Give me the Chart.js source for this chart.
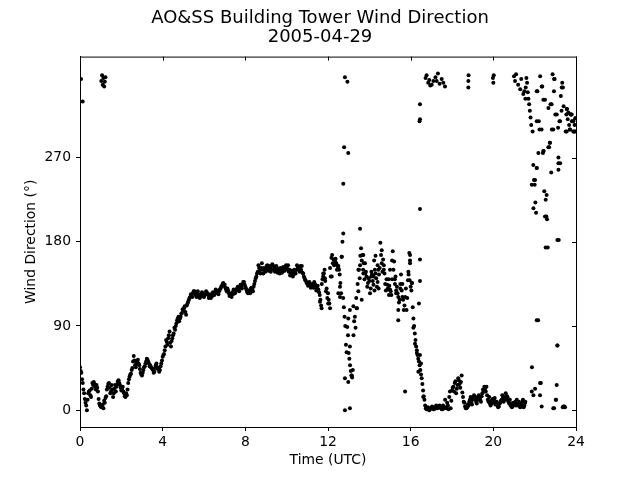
<!DOCTYPE html>
<html>
<head>
<meta charset="utf-8">
<script src="https://cdn.jsdelivr.net/npm/chart.js@4.4.1/dist/chart.umd.min.js"></script>
<style>
  html, body { margin: 0; padding: 0; background: #fff; }
  canvas { display: block; }
</style>
</head>
<body>
<canvas id="windChart" width="640" height="480"></canvas>
<script>
// wind direction (deg), one reading every 4 minutes from 00:00 UTC
const minutesPerSample = 4;
const windDir = [
  46, 40, 29, 18, 8, 0, 18, 21, 14, 29, 30, 25, 27, 20, 7,
  4, 4, 2, 8, 15, 25, 29, 18, 27, 14, 23, 20, 28, 32, 27,
  21, 25, 18, 14, 16, 29, 36, 39, 45, 58, 48, 50, 54, 48, 40,
  37, 43, 47, 52, 54, 50, 48, 45, 43, 41, 48, 46, 44, 43, 50,
  57, 60, 68, 73, 77, 84, 68, 77, 82, 86, 93, 98, 95, 100, 104,
  107, 111, 102, 114, 118, 121, 123, 125, 127, 123, 125, 123, 120, 122, 125,
  121, 124, 126, 123, 121, 120, 122, 125, 126, 128, 125, 127, 130, 133, 136,
  134, 129, 130, 125, 123, 121, 124, 127, 127, 130, 129, 132, 132, 135, 137,
  132, 128, 125, 127, 130, 129, 132, 138, 143, 148, 152, 146, 157, 146, 150,
  152, 155, 150, 154, 151, 155, 153, 150, 152, 149, 146, 150, 148, 151, 150,
  153, 155, 150, 146, 147, 145, 148, 150, 152, 153, 154, 154, 146, 141, 138,
  136, 135, 134, 132, 134, 137, 133, 130, 129, 123, 112, 140, 146, 138, 130,
  125, 114, 143, 166, 161, 159, 157, 154, 150, 136, 164, 120, 100, 70, 89,
  61, 48, 37, 43, 95, 88, 109, 127, 141, 173, 166, 157, 146, 143, 136,
  138, 130, 145, 134, 150, 141, 137, 145, 179, 157, 161, 146, 128, 134, 140,
  129, 123, 170, 159, 143, 132, 121, 118, 145, 121, 107, 121, 107, 139, 168,
  132, 136, 98, 82, 68, 59, 52, 43, 34, 21, 11, 2, 1, 2, 1,
  2, 3, 1, 2, 4, 3, 5, 2, 1, 3, 11, 2, 5, 14, 2,
  21, 25, 29, 18, 27, 32, 24, 37, 14, 8, 2, 3, 5, 11, 8,
  11, 16, 14, 7, 11, 14, 9, 18, 20, 23, 25, 11, 14, 5, 7,
  9, 13, 7, 5, 4, 8, 11, 14, 12, 18, 15, 9, 11, 7, 4,
  6, 9, 11, 5, 7, 4, 9, 3, 8, 355, 340, 327, 313, 46, 262,
  241, 211, 341, 309, 357, 300, 275, 234, 225, 204, 323, 286, 254, 359, 341,
  316, 27, 302, 309, 336, 350, 325, 3, 316, 311, 305, 316, 309, 298, 305
];

// readings two minutes after each of the above
const windDirMid = [
  42, 33, 22, 12, 5, 11, 20, 16, 23, 27, 28, 22, 24, 12, 5,
  3, 6, 10, 13, 22, 28, 24, 20, 22, 18, 27, 25, 31, 29, 24,
  23, 20, 15, 18, 22, 33, 38, 43, 52, 53, 46, 52, 50, 44, 38,
  40, 46, 50, 55, 52, 47, 46, 44, 40, 45, 50, 44, 41, 47, 53,
  59, 64, 75, 70, 80, 72, 74, 80, 88, 90, 96, 100, 98, 103, 108,
  109, 105, 112, 116, 120, 124, 121, 127, 125, 121, 127, 121, 124, 126, 123,
  123, 127, 124, 120, 124, 122, 126, 123, 129, 126, 124, 129, 132, 135, 133,
  131, 127, 128, 122, 124, 126, 129, 125, 129, 132, 127, 134, 130, 137, 134,
  130, 126, 128, 125, 131, 127, 135, 141, 146, 155, 149, 152, 150, 152, 148,
  154, 149, 153, 148, 156, 150, 148, 154, 147, 151, 152, 147, 153, 149, 155,
  151, 148, 144, 149, 143, 150, 146, 155, 150, 148, 150, 147, 143, 139, 136,
  133, 137, 131, 135, 131, 135, 128, 133, 126, 118, 135, 143, 150, 127, 120,
  118, 152, 163, 157, 155, 162, 150, 152, 145, 125, 180, 110, 90, 62, 80,
  55, 42, 35, 80, 100, 120, 135, 150, 165, 160, 150, 140, 148, 132, 141,
  125, 143, 138, 160, 146, 132, 150, 152, 166, 148, 155, 135, 140, 130, 133,
  127, 160, 150, 140, 128, 125, 115, 135, 128, 118, 112, 130, 120, 145, 160,
  128, 110, 90, 75, 64, 55, 48, 38, 28, 15, 5, 1, 3, 0, 2,
  4, 1, 2, 5, 2, 4, 3, 1, 5, 2, 3, 8, 1, 20, 10,
  24, 20, 31, 23, 34, 28, 30, 19, 9, 4, 2, 6, 9, 14, 6,
  14, 12, 9, 13, 16, 11, 15, 22, 25, 20, 16, 9, 7, 10, 12,
  11, 6, 9, 3, 7, 10, 16, 9, 14, 11, 13, 7, 5, 3, 8,
  8, 5, 7, 9, 3, 6, 11, 5, 345, 350, 333, 320, 305, 298, 246,
  222, 259, 96, 300, 29, 346, 277, 332, 207, 174, 281, 327, 300, 2, 354,
  11, 69, 182, 264, 320, 345, 4, 298, 322, 318, 300, 316, 309, 298, 312
];

// scattered readings and wrap-around near north
const extraHour = [
  0.05, 0.13, 1.03, 1.07, 1.1, 1.13, 1.17, 1.2, 1.23,
  11.61, 11.69, 11.77, 11.85, 12.01, 12.1, 12.18, 12.34, 12.5, 12.5, 12.58, 12.58, 12.66,
  12.74, 12.74, 12.78, 12.98, 12.82, 12.94, 12.82, 12.98, 13.15, 12.82, 13.06, 13.06, 12.98,
  13.06, 13.23, 13.39, 13.47, 13.55, 13.55, 13.63, 13.71, 13.79, 13.71,
  14.1, 14.25, 14.4, 14.6, 14.3, 14.45, 14.7, 14.2, 14.9, 14.95, 15.0, 15.1, 15.24, 15.3,
  15.4, 15.4, 15.5, 15.6, 15.73, 15.89, 15.95, 15.97, 15.97, 16.05,
  16.13, 16.21, 16.3, 16.37, 16.45, 16.5, 16.45, 16.45, 16.4, 16.61, 16.45, 16.45, 16.43, 16.45,
  16.72, 16.77, 16.85, 16.9, 16.95, 17.02, 17.1, 17.2, 17.26, 17.32, 17.4, 17.5, 17.58, 17.66,
  18.79, 18.79, 18.8, 19.98, 20.0, 20.02,
  21.0, 21.05, 21.1, 21.2, 21.3, 21.35, 21.45, 21.5, 21.55,
  21.55, 21.86, 21.94, 22.02, 21.86, 21.94, 22.02, 22.1, 22.1, 22.1, 22.1, 22.18, 22.26, 22.26,
  22.34, 22.34, 22.42, 22.42, 22.5, 22.53, 22.58, 22.66, 22.74, 22.82, 22.9, 22.94, 22.94,
  23.02, 23.07, 23.1, 23.1, 23.15, 23.15, 23.15, 23.23, 23.31, 23.36, 23.39, 23.55, 23.55,
  23.63, 23.71, 23.79, 23.87, 23.95, 23.98
];
const extraDir = [
  354, 330, 352, 358, 348, 355, 346, 351, 356,
  116, 109, 146, 141, 114, 109, 143, 159, 154, 125, 132, 121, 164,
  242, 189, 281, 275, 356, 351, 34, 30, 37, 0, 2, 68, 98,
  107, 111, 109, 150, 155, 194, 118, 166, 157, 146,
  148, 128, 155, 171, 165, 130, 150, 143, 129, 123, 150, 140, 135, 125,
  107, 96, 130, 135, 20, 148, 139, 157, 166, 136,
  88, 71, 61, 41, 59, 50, 161, 138, 114, 14, 215, 327, 309, 311,
  355, 358, 350, 353, 347, 348, 352, 356, 352, 360, 349, 354, 350, 346,
  345, 352, 358, 355, 350, 358,
  357, 352, 359, 348, 343, 354, 338, 341, 333,
  9, 20, 16, 23, 241, 216, 246, 96, 259, 309, 341, 275, 29, 16,
  4, 346, 277, 332, 207, 174, 230, 281, 286, 327, 300, 2, 354,
  11, 316, 69, 182, 257, 264, 270, 309, 345, 3, 4, 298, 322,
  318, 300, 316, 309, 298, 312
];

const xTicks = [0, 4, 8, 12, 16, 20, 24];
const yTicks = [0, 90, 180, 270];

const points = [];
windDir.forEach((d, i) => {
  points.push({ x: i * minutesPerSample / 60, y: d });
});
windDirMid.forEach((d, i) => {
  points.push({ x: (i * minutesPerSample + 2) / 60, y: d });
});
extraHour.forEach((h, i) => {
  points.push({ x: h, y: extraDir[i] });
});

const labelFont = { family: 'DejaVu Sans', size: 13.9, weight: 'normal' };

// top and right spines with inward ticks
const frame = {
  id: 'frame',
  afterDraw(chart) {
    const { ctx, chartArea: a, scales } = chart;
    ctx.save();
    ctx.strokeStyle = '#000';
    ctx.lineWidth = 1;
    ctx.strokeRect(a.left + 0.5, a.top + 0.5, a.right - a.left, a.bottom - a.top);
    ctx.beginPath();
    xTicks.forEach(v => {
      const px = Math.round(scales.x.getPixelForValue(v)) + 0.5;
      ctx.moveTo(px, a.top);
      ctx.lineTo(px, a.top + 4);
    });
    yTicks.forEach(v => {
      const py = Math.round(scales.y.getPixelForValue(v)) + 0.5;
      ctx.moveTo(a.right, py);
      ctx.lineTo(a.right - 4, py);
    });
    ctx.stroke();
    ctx.restore();
  }
};

new Chart(document.getElementById('windChart').getContext('2d'), {
  type: 'scatter',
  data: {
    datasets: [{
      data: points,
      pointRadius: 2,
      pointBackgroundColor: '#000',
      pointBorderWidth: 0,
      showLine: false
    }]
  },
  options: {
    responsive: false,
    animation: false,
    devicePixelRatio: 1,
    layout: { padding: 0 },
    plugins: {
      legend: { display: false },
      tooltip: { enabled: false },
      title: {
        display: true,
        text: ['AO&SS Building Tower Wind Direction', '2005-04-29'],
        color: '#000',
        font: { family: 'DejaVu Sans', size: 18, weight: 'normal', lineHeight: 1.1 },
        padding: { top: 8, bottom: 9 }
      }
    },
    scales: {
      x: {
        type: 'linear',
        min: 0,
        max: 24,
        afterBuildTicks: s => { s.ticks = xTicks.map(v => ({ value: v })); },
        afterFit: s => { s.height = 53; },
        grid: { drawOnChartArea: false, tickLength: 4, color: '#000' },
        border: { color: '#000' },
        ticks: { color: '#000', font: labelFont, padding: 3, maxRotation: 0 },
        title: { display: true, text: 'Time (UTC)', color: '#000', font: labelFont, padding: { top: 4, bottom: 11 } }
      },
      y: {
        type: 'linear',
        min: -18,
        max: 378,
        afterBuildTicks: s => { s.ticks = yTicks.map(v => ({ value: v })); },
        afterFit: s => { s.width = 80; },
        grid: { drawOnChartArea: false, tickLength: 4, color: '#000' },
        border: { color: '#000' },
        ticks: { color: '#000', font: labelFont, padding: 5 },
        title: { display: true, text: 'Wind Direction (°)', color: '#000', font: labelFont, padding: { top: 23, bottom: 4 } }
      },
      // empty right margin so the title centres on the whole figure
      yRight: {
        type: 'linear',
        position: 'right',
        display: true,
        afterFit: s => { s.width = 64; },
        grid: { display: false },
        border: { display: false },
        ticks: { display: false }
      }
    }
  },
  plugins: [frame]
});
</script>
</body>
</html>
